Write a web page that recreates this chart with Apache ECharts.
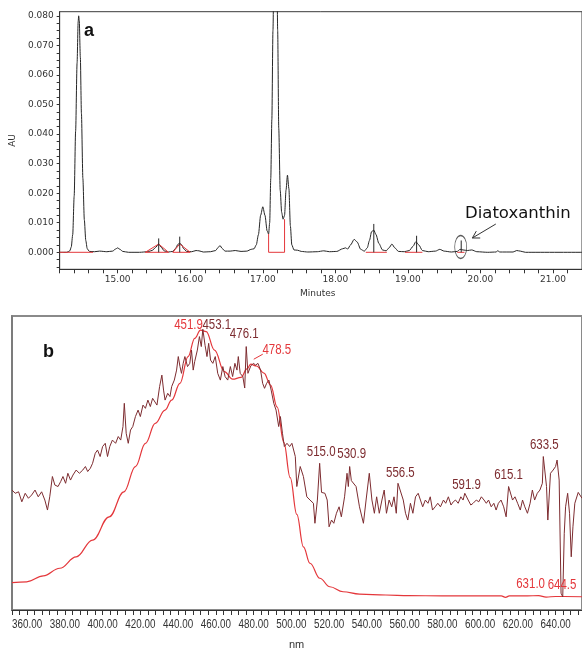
<!DOCTYPE html>
<html>
<head>
<meta charset="utf-8">
<script src="https://cdn.jsdelivr.net/npm/echarts@6.0.0/dist/echarts.min.js"></script>
<style>
  html, body { margin: 0; padding: 0; background: #ffffff; }
  #chart { width: 582px; height: 652px; }
</style>
</head>
<body>
<div id="chart"></div>
<script>
// ---------- (a) HPLC chromatogram: retention time (min) vs absorbance (AU) ----------
const chromTrace = [
  [14.20,0.0000],[14.30,0.0000],[14.34,0.0005],[14.36,0.0018],[14.38,0.0060],[14.40,0.0190],
  [14.42,0.0410],[14.44,0.0640],[14.455,0.0780],[14.462,0.0800],[14.47,0.0785],[14.485,0.0660],
  [14.50,0.0470],[14.52,0.0250],[14.54,0.0110],[14.56,0.0040],[14.58,0.0012],[14.61,0.0003],
  [14.68,0.0002],[14.75,0.0004],[14.85,0.0002],[14.93,0.0004],[14.97,0.0011],[15.00,0.0015],
  [15.03,0.0010],[15.07,0.0003],[15.15,0.0000],[15.30,0.0000],[15.42,0.0002],[15.48,0.0007],
  [15.52,0.0016],[15.565,0.0028],[15.60,0.0017],[15.64,0.0005],[15.70,0.0001],[15.76,0.0003],
  [15.80,0.0014],[15.83,0.0027],[15.855,0.0031],[15.88,0.0026],[15.91,0.0012],[15.95,0.0003],
  [16.02,0.0002],[16.08,0.0006],[16.12,0.0005],[16.18,0.0001],[16.28,0.0002],[16.35,0.0006],
  [16.38,0.0015],[16.41,0.0023],[16.44,0.0013],[16.48,0.0004],[16.55,0.0004],[16.62,0.0006],
  [16.70,0.0003],[16.78,0.0004],[16.84,0.0010],[16.88,0.0012],[16.91,0.0025],[16.94,0.0060],
  [16.97,0.0125],[17.00,0.0154],[17.03,0.0125],[17.06,0.0072],[17.08,0.0062],[17.095,0.0100],
  [17.11,0.0250],[17.125,0.0450],[17.14,0.0750],[17.16,0.1100],[17.175,0.1250],[17.19,0.1100],
  [17.205,0.0750],[17.22,0.0420],[17.24,0.0210],[17.26,0.0135],[17.28,0.0112],[17.30,0.0125],
  [17.32,0.0210],[17.34,0.0261],[17.36,0.0215],[17.38,0.0090],[17.40,0.0025],[17.43,0.0008],
  [17.48,0.0007],[17.53,0.0003],[17.62,0.0001],[17.75,0.0002],[17.84,0.0005],[17.92,0.0002],
  [18.02,0.0003],[18.10,0.0012],[18.14,0.0015],[18.17,0.0011],[18.21,0.0025],[18.26,0.0044],
  [18.30,0.0035],[18.35,0.0010],[18.40,0.0004],[18.44,0.0015],[18.47,0.0040],[18.50,0.0070],
  [18.53,0.0075],[18.56,0.0060],[18.60,0.0030],[18.65,0.0008],[18.70,0.0005],[18.74,0.0015],
  [18.78,0.0028],[18.82,0.0015],[18.87,0.0003],[18.95,0.0002],[19.02,0.0006],[19.07,0.0020],
  [19.11,0.0036],[19.15,0.0025],[19.20,0.0006],[19.28,0.0002],[19.38,0.0004],[19.44,0.0010],
  [19.50,0.0004],[19.60,0.0001],[19.68,0.0003],[19.72,0.0010],[19.76,0.0008],[19.82,0.0006],
  [19.88,0.0008],[19.95,0.0002],[20.10,0.0000],[20.22,0.0001],[20.24,0.0006],[20.26,0.0001],
  [20.45,0.0001],[20.50,0.0006],[20.55,0.0004],[20.62,0.0000],[21.40,0.0000]
];
// integrated-peak apex markers (retention time, marker top)
const apexMarks = [[15.565,0.0047],[15.855,0.0053],[18.53,0.0096],[19.12,0.0056],[19.735,0.0040]];
// integration baselines / drop lines / fitted triangles drawn in red
const integrationMarks = [
  [[14.20,0],[14.66,0]],
  [[15.38,0],[15.70,0]],
  [[15.38,0],[15.565,0.0028],[15.70,0]],
  [[15.76,0],[16.00,0]],
  [[15.76,0],[15.855,0.0028],[16.00,0]],
  [[17.08,0.0062],[17.08,0],[17.30,0],[17.30,0.0112]],
  [[18.42,0],[18.71,0]],
  [[18.96,0],[19.20,0]],
  [[19.68,0],[19.78,0]]
];
const diatoxanthinPeak = [19.728, 0.0018];
const arrowShaft = [[20.212,0.00957],[19.889,0.00484]];
const arrowHead = [[19.997,0.00484],[19.889,0.00484],[19.943,0.00717]];
const timeLabels = [15, 16, 17, 18, 19, 20, 21];
const auLabels = [0, 0.01, 0.02, 0.03, 0.04, 0.05, 0.06, 0.07, 0.08];

// ---------- (b) UV-Vis spectra: wavelength (nm) vs relative absorbance ----------
const referenceSpectrum = [
  [352.0,9.3],[359.8,9.6],[368.6,11.6],[377.3,14.2],[386.0,18.1],[394.7,23.8],[403.5,31.7],
  [411.3,40.2],[417.4,48.8],[422.7,56.7],[427.9,63.5],[433.1,68.0],[436.6,71.4],[441.0,77.1],
  [445.3,86.2],[448.8,92.4],[451.9,95.2],[454.9,94.7],[459.3,88.4],[464.5,81.1],[468.9,78.5],
  [473.3,79.1],[476.5,82.0],[478.5,83.6],[481.5,83.0],[485.5,80.6],[489.0,76.5],[492.5,69.0],
  [496.0,57.0],[499.4,45.0],[502.9,32.5],[506.4,21.5],[509.9,15.9],[515.1,10.8],[520.4,7.9],
  [527.4,6.2],[536.1,5.4],[550.0,5.1],[562.3,4.9],[579.7,4.8],[597.2,4.8],[611.2,4.8],
  [613.5,4.3],[615.5,4.8],[625.1,4.8],[631.0,4.9],[635.0,4.4],[640.0,4.6],[644.5,4.6],[654.0,4.5]
];
const sampleSpectrum = [
  [352.0,40.8],[353.7,39.7],[355.5,40.2],[357.2,36.8],[359.0,39.7],[360.7,38.0],[362.4,39.1],
  [364.2,40.8],[365.9,38.5],[367.7,40.2],[369.4,37.4],[370.8,34.0],[372.0,38.5],[373.4,45.4],
  [374.7,42.5],[376.4,42.0],[377.8,43.7],[379.0,45.4],[380.4,43.1],[381.6,46.5],[383.0,44.2],
  [384.3,45.9],[386.0,47.6],[387.7,46.5],[389.5,47.6],[390.9,48.8],[392.1,47.1],[393.5,48.2],
  [394.7,49.9],[396.1,53.3],[397.3,54.4],[398.7,52.2],[400.0,55.6],[401.4,56.7],[402.6,52.2],
  [403.8,55.6],[405.2,57.8],[406.9,56.7],[408.3,59.0],[409.6,57.8],[410.8,62.4],[411.5,70.3],
  [412.5,60.1],[413.6,56.7],[414.8,61.2],[416.0,62.4],[417.4,65.8],[418.8,68.0],[420.0,65.8],
  [421.4,69.7],[422.7,68.6],[424.0,71.4],[425.3,69.2],[426.5,72.0],[427.5,71.4],[428.8,69.7],
  [430.2,76.0],[431.4,79.9],[432.3,74.8],[433.1,71.4],[434.5,73.7],[435.7,72.6],[436.6,76.0],
  [438.0,78.2],[439.2,81.6],[440.1,86.2],[441.0,82.8],[441.8,80.5],[442.7,83.9],[443.6,86.2],
  [445.0,82.8],[446.2,83.9],[447.1,88.4],[448.0,81.6],[448.8,84.5],[450.2,88.4],[451.3,93.0],
  [452.3,89.6],[453.1,95.5],[454.3,90.0],[455.3,86.2],[456.2,90.7],[457.2,85.0],[458.4,83.9],
  [459.7,86.2],[461.0,80.5],[462.4,78.2],[463.7,82.8],[464.9,79.4],[466.3,78.2],[467.7,82.8],
  [468.9,79.4],[470.1,83.9],[471.2,81.6],[471.9,86.2],[472.9,80.5],[474.3,79.4],[475.3,75.5],
  [476.1,89.6],[477.0,80.5],[478.5,83.0],[479.9,83.9],[481.1,83.3],[482.3,83.9],[483.7,81.6],
  [484.8,77.1],[485.8,75.4],[486.9,77.1],[488.1,78.2],[489.3,74.8],[490.7,70.3],[491.9,68.0],
  [493.3,62.4],[494.2,65.8],[495.3,60.1],[496.3,55.6],[497.7,56.7],[499.1,55.6],[500.3,56.7],
  [502.1,52.2],[502.9,42.0],[504.7,48.8],[506.4,45.4],[508.2,38.5],[509.9,37.4],[511.7,36.3],
  [512.5,29.5],[513.8,37.4],[515.0,49.9],[516.0,40.0],[517.8,39.7],[519.0,37.4],[520.0,28.3],
  [521.3,30.6],[522.5,29.5],[523.9,32.9],[525.3,35.1],[526.5,31.7],[528.2,38.5],[529.5,46.5],
  [530.2,42.0],[530.9,48.8],[531.8,44.0],[534.3,42.0],[536.1,35.1],[538.2,29.5],[539.6,37.4],
  [541.3,46.5],[542.7,37.4],[544.0,32.9],[545.2,38.5],[546.6,32.9],[548.0,37.4],[549.2,40.8],
  [550.4,32.9],[551.8,37.4],[553.2,35.1],[554.4,38.5],[555.6,32.9],[556.5,43.1],[559.3,37.4],
  [560.5,32.9],[561.7,30.6],[563.1,36.3],[564.4,32.9],[565.8,38.5],[567.2,39.7],[568.4,37.4],
  [569.6,35.1],[571.0,37.4],[572.4,36.3],[573.6,38.5],[574.8,34.0],[576.2,35.1],[577.6,36.3],
  [579.0,35.1],[580.6,37.4],[581.8,36.3],[583.2,38.5],[584.6,35.7],[585.8,36.8],[587.0,37.4],
  [588.4,36.3],[589.8,38.5],[591.0,37.4],[591.9,39.7],[593.7,37.4],[595.1,35.7],[596.3,36.3],
  [598.0,37.4],[599.3,36.8],[600.7,38.5],[602.1,37.4],[603.3,36.3],[604.5,37.4],[605.9,35.1],
  [607.3,36.3],[608.5,34.0],[609.7,36.3],[611.1,37.4],[612.5,35.1],[613.8,31.7],[615.1,42.0],
  [617.2,37.4],[618.5,38.5],[619.9,36.3],[621.3,34.0],[622.5,37.4],[623.7,35.1],[625.1,32.9],
  [626.5,36.3],[627.7,40.8],[628.9,37.4],[630.3,39.7],[631.7,40.8],[633.0,43.1],[633.5,52.2],
  [635.2,42.0],[635.9,30.6],[637.3,46.5],[638.7,47.6],[640.0,48.8],[640.8,51.0],[641.9,44.2],
  [642.9,5.7],[643.8,4.5],[644.6,26.1],[645.3,35.1],[646.4,39.7],[647.4,32.9],[648.3,18.1],
  [649.2,28.3],[650.2,36.3],[652.0,40.0],[654.0,38.0]
];
const referencePeaks = [451.9, 478.5, 631.0, 644.5];
const samplePeaks = [453.1, 476.1, 515.0, 530.9, 556.5, 591.9, 615.1, 633.5];
const wavelengthLabels = [360, 380, 400, 420, 440, 460, 480, 500, 520, 540, 560, 580, 600, 620, 640];

// ---------- styling ----------
const TICK_FONT = '"DejaVu Sans", Verdana, sans-serif';
const SPEC_FONT = '"Liberation Sans", Arial, sans-serif';
const NARROW = 0.82;           // horizontal squeeze applied to the spectrum texts
const RED = '#e4373b';
const MAROON = '#7d2c30';
const TRACE = '#262626';

function steps(from, to, step) {
  const out = [];
  const n = Math.round((to - from) / step);
  for (let i = 0; i <= n; i++) out.push(+(from + i * step).toFixed(6));
  return out;
}
function valueAt(curve, x) {
  const p = curve.find(d => Math.abs(d[0] - x) < 1e-9);
  return p ? p[1] : 0;
}

// label centre offsets (px) relative to the peak point
const labelOffsets = {
  '451.9': [-12, -5], '478.5': [26, -14], '631.0': [-8, -11], '644.5': [-2, -11.5],
  '453.1': [14, -4], '476.1': [-2, -12], '515.0': [1.5, -11.5], '530.9': [2, -12.5],
  '556.5': [2.4, -10], '591.9': [1.7, -8.3], '615.1': [0, -11], '633.5': [1, -11.5]
};
const leaderLines = { '478.5': [[3, -5], [12, -10]] };

// condensed peak labels placed at each peak (wavelength, absorbance)
function peakLabelSeries(curve, peaks, color, name) {
  return {
    name: name, type: 'custom', xAxisIndex: 1, yAxisIndex: 1, clip: false, z: 6, silent: true,
    data: peaks.map(p => [p, valueAt(curve, p)]),
    renderItem: (params, api) => {
      const x = api.value(0);
      const key = x.toFixed(1);
      const pt = api.coord([x, api.value(1)]);
      const off = labelOffsets[key] || [0, -10];
      const children = [{
        type: 'text', x: pt[0] + off[0], y: pt[1] + off[1], scaleX: NARROW,
        style: { text: key, align: 'center', verticalAlign: 'middle',
          font: '14px ' + SPEC_FONT, fill: color }
      }];
      const ll = leaderLines[key];
      if (ll) children.push({
        type: 'line',
        shape: { x1: pt[0] + ll[0][0], y1: pt[1] + ll[0][1], x2: pt[0] + ll[1][0], y2: pt[1] + ll[1][1] },
        style: { stroke: color, lineWidth: 1 }
      });
      return { type: 'group', children: children };
    }
  };
}

const chart = echarts.init(document.getElementById('chart'), null, { renderer: 'canvas' });

const series = [];
// chromatogram trace
series.push({
  name: 'chromatogram', type: 'line', xAxisIndex: 0, yAxisIndex: 0,
  data: chromTrace, showSymbol: false, smooth: 0.25, smoothMonotone: 'x',
  lineStyle: { color: TRACE, width: 1 }, z: 3, silent: true
});
integrationMarks.forEach((seg, i) => series.push({
  name: 'integration' + i, type: 'line', xAxisIndex: 0, yAxisIndex: 0,
  data: seg, showSymbol: false, lineStyle: { color: RED, width: 1 }, z: 4, silent: true
}));
apexMarks.forEach((m, i) => series.push({
  name: 'apex' + i, type: 'line', xAxisIndex: 0, yAxisIndex: 0,
  data: [[m[0], 0], [m[0], m[1]]], showSymbol: false,
  lineStyle: { color: TRACE, width: 1 }, z: 4, silent: true
}));
series.push({
  name: 'diatoxanthin ring', type: 'scatter', xAxisIndex: 0, yAxisIndex: 0,
  data: [diatoxanthinPeak], symbol: 'circle', symbolSize: [12, 23],
  itemStyle: { color: 'rgba(0,0,0,0)', borderColor: '#333', borderWidth: 1 }, z: 6, silent: true
});
series.push({
  name: 'arrow shaft', type: 'line', xAxisIndex: 0, yAxisIndex: 0, data: arrowShaft,
  showSymbol: false, lineStyle: { color: '#333', width: 1 }, z: 6, silent: true
});
series.push({
  name: 'arrow head', type: 'line', xAxisIndex: 0, yAxisIndex: 0, data: arrowHead,
  showSymbol: false, lineStyle: { color: '#333', width: 1 }, z: 6, silent: true
});
// spectra
series.push({
  name: 'reference', type: 'line', xAxisIndex: 1, yAxisIndex: 1, data: referenceSpectrum,
  showSymbol: false, smooth: 0.4, smoothMonotone: 'x',
  lineStyle: { color: RED, width: 1.2 }, z: 3, silent: true
});
series.push({
  name: 'sample', type: 'line', xAxisIndex: 1, yAxisIndex: 1, data: sampleSpectrum,
  showSymbol: false, lineStyle: { color: MAROON, width: 1 }, z: 4, silent: true
});
series.push(peakLabelSeries(referenceSpectrum, referencePeaks, RED, 'reference peaks'));
series.push(peakLabelSeries(sampleSpectrum, samplePeaks, MAROON, 'sample peaks'));
// condensed wavelength tick labels under the spectrum axis
series.push({
  name: 'wavelength labels', type: 'custom', xAxisIndex: 1, yAxisIndex: 1, clip: false, silent: true,
  data: wavelengthLabels.map(v => [v, 0]),
  renderItem: (params, api) => {
    const pt = api.coord([api.value(0), 0]);
    return {
      type: 'text', x: pt[0], y: pt[1] + 9, scaleX: NARROW,
      style: { text: api.value(0).toFixed(2), align: 'center', verticalAlign: 'top',
        font: '12px ' + SPEC_FONT, fill: '#333' }
    };
  }
});

const option = {
  animation: false,
  backgroundColor: '#ffffff',
  grid: [
    { left: 56, top: 11.7, width: 535.3, height: 257.6, show: true,
      borderColor: '#3a3a3a', borderWidth: 1, backgroundColor: 'rgba(0,0,0,0)' },
    { left: 12, top: 316, width: 576.8, height: 294, show: true,
      borderColor: '#8a8a8a', borderWidth: 2, backgroundColor: 'rgba(0,0,0,0)' }
  ],
  xAxis: [
    { type: 'value', gridIndex: 0, min: 14.2, max: 21.4,
      axisLine: { show: true, onZero: false, lineStyle: { color: '#333', width: 1 } },
      axisTick: { show: true, length: 4, customValues: steps(14.2, 21.4, 0.2),
        lineStyle: { color: '#333' } },
      axisLabel: { customValues: timeLabels, formatter: v => v.toFixed(2), margin: 6,
        fontFamily: TICK_FONT, fontSize: 9, color: '#333' },
      splitLine: { show: false } },
    { type: 'value', gridIndex: 1, min: 352, max: 654,
      axisLine: { show: true, onZero: false, lineStyle: { color: '#333', width: 1 } },
      axisTick: { show: true, length: 5, customValues: steps(352, 652, 4),
        lineStyle: { color: '#333' } },
      axisLabel: { show: false },
      splitLine: { show: false } }
  ],
  yAxis: [
    { type: 'value', gridIndex: 0, min: -0.00575, max: 0.0814,
      axisLine: { show: true, onZero: false, lineStyle: { color: '#333', width: 1 } },
      axisTick: { show: true, length: 3, customValues: steps(-0.005, 0.08, 0.0025),
        lineStyle: { color: '#333' } },
      axisLabel: { customValues: auLabels, formatter: v => v.toFixed(3), margin: 6,
        fontFamily: TICK_FONT, fontSize: 9, color: '#333' },
      name: 'AU', nameLocation: 'middle', nameRotate: 90, nameGap: 39,
      nameTextStyle: { fontFamily: TICK_FONT, fontSize: 9, color: '#333' },
      splitLine: { show: false } },
    { type: 'value', gridIndex: 1, min: 0, max: 100,
      axisLine: { show: true, onZero: false, lineStyle: { color: '#777', width: 1.5 } },
      axisTick: { show: false }, axisLabel: { show: false }, splitLine: { show: false } }
  ],
  graphic: [
    { type: 'text', left: 84, top: 22, style: { text: 'a', font: 'bold 18px Arial, "Liberation Sans", sans-serif', fill: '#111' } },
    { type: 'text', left: 43, top: 343, style: { text: 'b', font: 'bold 18px Arial, "Liberation Sans", sans-serif', fill: '#111' } },
    { type: 'text', left: 465, top: 205, style: { text: 'Diatoxanthin', font: '16.5px "DejaVu Sans", Verdana, sans-serif', fill: '#111' } },
    { type: 'text', left: 300, top: 289, style: { text: 'Minutes', font: '9px "DejaVu Sans", Verdana, sans-serif', fill: '#333' } },
    { type: 'text', left: 289, top: 639, style: { text: 'nm', font: '11px "Liberation Sans", Arial, sans-serif', fill: '#333' } }
  ],
  series: series
};
chart.setOption(option);
</script>
</body>
</html>
